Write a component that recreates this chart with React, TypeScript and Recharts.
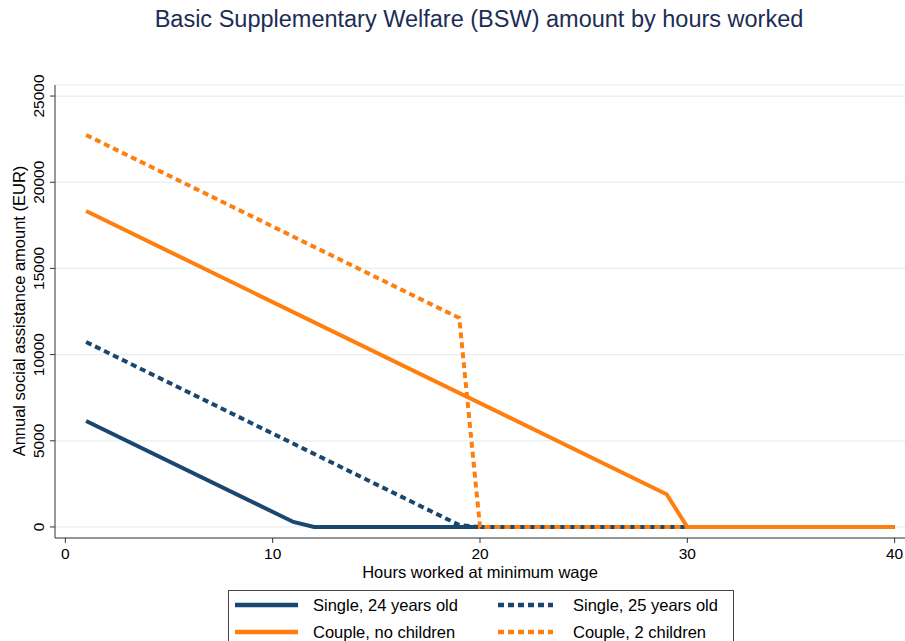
import React from "react";
import { LineChart, Line, XAxis, YAxis, CartesianGrid, Legend } from "recharts";

// Breakpoints (hours worked, annual EUR)
const single24Hours = [1, 11, 12, 40];
const single24Values = [6150, 290, 0, 0];
const single25Hours = [1, 19, 20, 40];
const single25Values = [10730, 110, 0, 0];
const couple0Hours = [1, 29, 30, 40];
const couple0Values = [18330, 1900, 0, 0];
const couple2Hours = [1, 19, 20, 40];
const couple2Values = [22740, 12120, 0, 0];

const xTicks = [0, 10, 20, 30, 40];
const yTicks = [0, 5000, 10000, 15000, 20000, 25000];

const seriesNames = [
  "Single, 24 years old",
  "Single, 25 years old",
  "Couple, no children",
  "Couple, 2 children",
];

const NAVY = "#1a476f";
const ORANGE = "#ff7f0e";
const FONT = "'Liberation Sans', Arial, sans-serif";

const toRows = (hours: number[], values: number[]) =>
  hours.map((h, i) => ({ h, v: values[i] }));

const series = [
  { name: seriesNames[0], data: toRows(single24Hours, single24Values), color: NAVY, dash: undefined as string | undefined },
  { name: seriesNames[1], data: toRows(single25Hours, single25Values), color: NAVY, dash: "6 4" },
  { name: seriesNames[2], data: toRows(couple0Hours, couple0Values), color: ORANGE, dash: undefined },
  { name: seriesNames[3], data: toRows(couple2Hours, couple2Values), color: ORANGE, dash: "6 4" },
];

const YTick = (props: any) => {
  const { y, payload } = props;
  return (
    <text
      x={44}
      y={y}
      transform={`rotate(-90 44 ${y})`}
      textAnchor="middle"
      fontFamily={FONT}
      fontSize={15.5}
      fill="#000"
    >
      {payload.value}
    </text>
  );
};

const XTick = (props: any) => {
  const { x, payload } = props;
  return (
    <text x={x} y={559} textAnchor="middle" fontFamily={FONT} fontSize={15.5} fill="#000">
      {payload.value}
    </text>
  );
};

const LegendBox = () => {
  return (
    <div
      style={{
        position: "absolute",
        left: 228,
        top: 590,
        width: 506,
        height: 60,
        border: "1px solid #444",
        background: "#fff",
        boxSizing: "border-box",
      }}
    >
      <svg width={506} height={60} style={{ position: "absolute", left: -1, top: -1 }}>
        {series.map((s, i) => {
          const col = i % 2;
          const row = Math.floor(i / 2);
          const lx = col === 0 ? 7 : 270;
          const lw = col === 0 ? 63 : 55;
          const tx = col === 0 ? 85 : 345;
          const cy = 15 + row * 27;
          return (
            <g key={s.name}>
              <line
                x1={lx}
                x2={lx + lw}
                y1={cy}
                y2={cy}
                stroke={s.color}
                strokeWidth={4.5}
                strokeDasharray={s.dash}
              />
              <text x={tx} y={cy + 6} fontFamily={FONT} fontSize={16.5} fill="#000">
                {s.name}
              </text>
            </g>
          );
        })}
      </svg>
    </div>
  );
};

export default function App() {
  return (
    <div
      style={{
        position: "absolute",
        left: 0,
        top: 0,
        width: 905,
        height: 641,
        overflow: "hidden",
        background: "#fff",
        fontFamily: FONT,
      }}
    >
      <div
        style={{
          position: "absolute",
          left: 0,
          top: 6,
          width: 958,
          textAlign: "center",
          fontSize: 23.5,
          color: "#1c2d55",
          whiteSpace: "nowrap",
        }}
      >
        Basic Supplementary Welfare (BSW) amount by hours worked
      </div>
      <LineChart
        width={905}
        height={641}
        margin={{ top: 85, right: 0, left: 0, bottom: 0 }}
        style={{ position: "absolute", left: 0, top: 0 }}
      >
        <CartesianGrid horizontal vertical={false} stroke="#e6eff1" strokeWidth={1.2} />
        <XAxis
          type="number"
          dataKey="h"
          domain={[-0.5, 40.5]}
          ticks={xTicks}
          allowDataOverflow
          height={103}
          stroke="#333"
          tickLine={{ stroke: "#333" }}
          tickSize={5}
          tick={<XTick />}
        />
        <YAxis
          type="number"
          dataKey="v"
          domain={[-640, 25640]}
          ticks={yTicks}
          allowDataOverflow
          width={55}
          stroke="#333"
          tickLine={{ stroke: "#333" }}
          tickSize={5}
          tick={<YTick />}
        />
        {series.map((s) => (
          <Line
            key={s.name}
            data={s.data}
            dataKey="v"
            name={s.name}
            type="linear"
            stroke={s.color}
            strokeWidth={4}
            strokeDasharray={s.dash}
            dot={false}
            activeDot={false}
            isAnimationActive={false}
          />
        ))}
        <Legend content={() => null} />
      </LineChart>
      <svg width={905} height={641} style={{ position: "absolute", left: 0, top: 0, pointerEvents: "none" }}>
        <text
          x={25}
          y={311}
          transform="rotate(-90 25 311)"
          textAnchor="middle"
          fontFamily={FONT}
          fontSize={16.5}
          fill="#000"
        >
          Annual social assistance amount (EUR)
        </text>
        <text x={480} y={578} textAnchor="middle" fontFamily={FONT} fontSize={16.5} fill="#000">
          Hours worked at minimum wage
        </text>
      </svg>
      <LegendBox />
    </div>
  );
}
